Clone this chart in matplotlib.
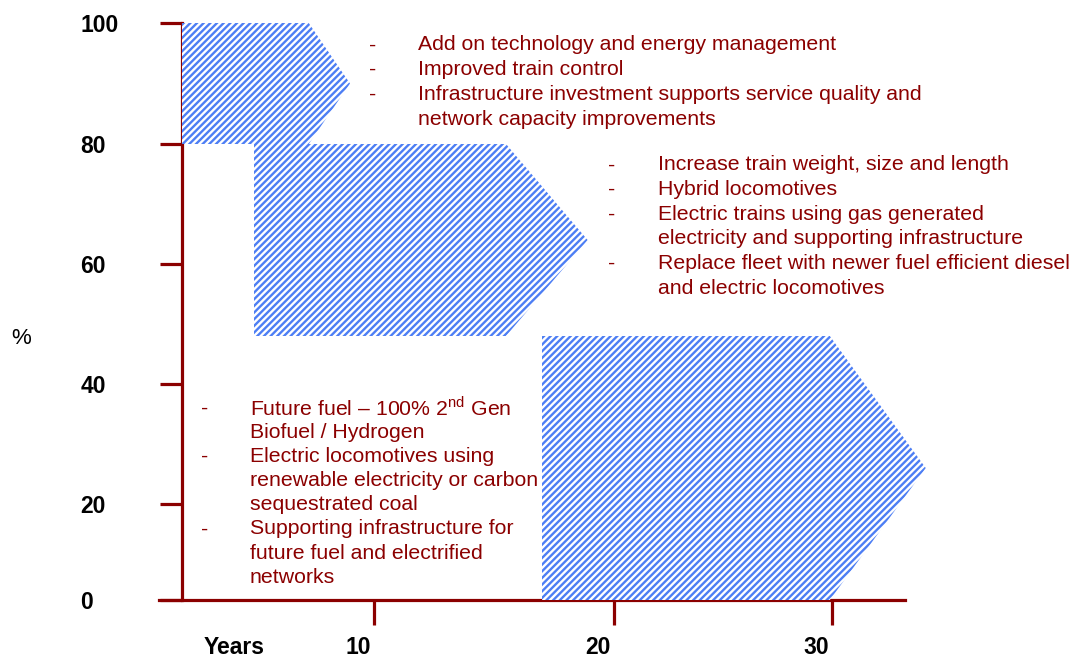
import numpy as np
import matplotlib
matplotlib.use('Agg')
import matplotlib.pyplot as plt
from matplotlib.patches import Polygon
from matplotlib.transforms import ScaledTranslation, IdentityTransform

plt.rcParams['font.family'] = ['Liberation Sans', 'DejaVu Sans']
plt.rcParams['mathtext.fontset'] = 'custom'
plt.rcParams['mathtext.rm'] = 'Liberation Sans'
plt.rcParams['hatch.linewidth'] = 1.7

RED = '#8b0000'
BLUE = '#4d7ef4'

# axis ticks (the original axes are hand drawn and not evenly spaced)
y_ticks = [0, 20, 40, 60, 80, 100]
x_ticks = [10, 20, 30]

# stages: (start year, end of flat top, arrow tip year, bottom %, top %)
stage_start = [0, 3.75, 17.0]
stage_end = [6.6, 15.5, 29.9]
stage_tip = [8.75, 18.9, 34.3]
stage_low = [80, 48, 0]
stage_high = [100, 80, 48]

notes_top = ["Add on technology and energy management",
             "Improved train control",
             "Infrastructure investment supports service quality and",
             "network capacity improvements"]
notes_top_dash = [True, True, True, False]

notes_mid = ["Increase train weight, size and length",
             "Hybrid locomotives",
             "Electric trains using gas generated",
             "electricity and supporting infrastructure",
             "Replace fleet with newer fuel efficient diesel",
             "and electric locomotives"]
notes_mid_dash = [True, True, True, False, True, False]

notes_low = [r"Future fuel – 100% 2$^{\mathrm{nd}}$ Gen",
             "Biofuel / Hydrogen",
             "Electric locomotives using",
             "renewable electricity or carbon",
             "sequestrated coal",
             "Supporting infrastructure for",
             "future fuel and electrified",
             "networks"]
notes_low_dash = [True, False, True, False, False, True, False, False]

# where the hand drawn axes put each value (pixels)
y_pos = [0, 96, 216, 336, 456, 577]
x_years = [-10, 0, 10, 20, 30, 40]
x_pos = [-10, 182, 374, 614, 832, 1050]


def y_fwd(v):
    return np.interp(v, y_ticks, y_pos)


def y_inv(v):
    return np.interp(v, y_pos, y_ticks)


def x_fwd(v):
    return np.interp(v, x_years, x_pos)


def x_inv(v):
    return np.interp(v, x_pos, x_years)


W, H = 1077, 657
fig = plt.figure(figsize=(W / 100, H / 100), dpi=100)
ax = fig.add_axes([159 / W, 57 / H, 746 / W, 577 / H])
ax.set_xscale('function', functions=(x_fwd, x_inv))
ax.set_yscale('function', functions=(y_fwd, y_inv))
ax.set_xlim(x_inv(159), x_inv(905))
ax.set_ylim(0, 100)

# straight edges in screen space, so map the corners through the axes first
for s, e, t, lo, hi in zip(stage_start, stage_end, stage_tip, stage_low, stage_high):
    mid = y_inv((y_fwd(lo) + y_fwd(hi)) / 2)
    pts = ax.transData.transform([(s, lo), (s, hi), (e, hi), (t, mid), (e, lo)])
    fig.patches.append(Polygon(pts, closed=True, facecolor='white', edgecolor=BLUE,
                               hatch='/////', linewidth=0,
                               transform=IdentityTransform(), zorder=0.5))

for side in ['top', 'right']:
    ax.spines[side].set_visible(False)
ax.spines['left'].set_position(('data', 0))
for side in ['left', 'bottom']:
    ax.spines[side].set_color(RED)
    ax.spines[side].set_linewidth(2.3)
ax.patch.set_alpha(0)

ax.set_yticks(y_ticks)
ax.set_yticklabels([str(v) for v in y_ticks])
ax.tick_params(axis='y', direction='out', length=16, width=2.3, color=RED,
               pad=57, labelsize=16.5)
for lab in ax.get_yticklabels():
    lab.set_horizontalalignment('left')
    lab.set_fontweight('bold')

ax.set_xticks(x_ticks)
ax.set_xticklabels([str(v) for v in x_ticks])
ax.tick_params(axis='x', direction='out', length=18, width=2.3, color=RED,
               pad=8, labelsize=16.5)
shift = ScaledTranslation(-0.16, 0, fig.dpi_scale_trans)
for lab in ax.get_xticklabels():
    lab.set_fontweight('bold')
    lab.set_transform(lab.get_transform() + shift)

fig.text(234 / W, 1 - 647 / H, "Years", ha='center', va='center',
         fontsize=16.5, fontweight='bold')
fig.text(21 / W, 1 - 338 / H, "%", ha='center', va='center', fontsize=16)


def note_block(lines, dashes, dash_x, text_x, top_y, step):
    for i, (line, d) in enumerate(zip(lines, dashes)):
        py = 1 - (top_y + i * step) / H
        if d:
            fig.text(dash_x / W, py, "-", ha='center', va='center',
                     fontsize=15.3, color=RED)
        fig.text(text_x / W, py, line, ha='left', va='center',
                 fontsize=15.3, color=RED)


note_block(notes_top, notes_top_dash, 373, 418, 45, 24.7)
note_block(notes_mid, notes_mid_dash, 612, 658, 165, 24.6)
note_block(notes_low, notes_low_dash, 205, 250, 408, 24.2)

fig.savefig('out.png', dpi=100)
